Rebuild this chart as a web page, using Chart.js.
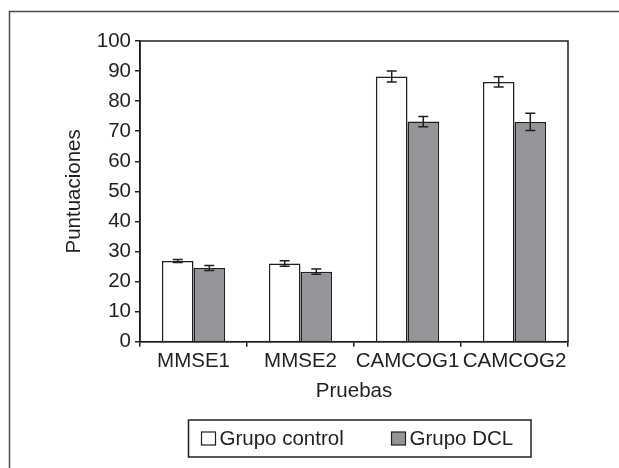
<!DOCTYPE html>
<html>
<head>
<meta charset="utf-8">
<script src="https://cdn.jsdelivr.net/npm/chart.js@4/dist/chart.umd.min.js"></script>
<style>
  html, body { margin: 0; padding: 0; background: #fff; }
  #wrap { width: 619px; height: 468px; }
</style>
</head>
<body>
<div id="wrap"><canvas id="scores" width="619" height="468"></canvas></div>
<script>
const categories = ["MMSE1", "MMSE2", "CAMCOG1", "CAMCOG2"];
const controlMeans = [26.8, 26.0, 88.2, 86.4];
const controlErr = [0.5, 0.9, 1.8, 1.7];
const dclMeans = [24.5, 23.3, 73.2, 73.1];
const dclErr = [0.8, 0.9, 1.7, 2.9];
const yTickValues = [0, 10, 20, 30, 40, 50, 60, 70, 80, 90, 100];

const ink = "#231f20";
const fontFamily = "'Liberation Sans', Arial, Helvetica, sans-serif";
const fontSize = 20.5;

// whiskers on top of each bar (mean +/- error)
const errorBars = {
    id: "errorBars",
    afterDatasetsDraw(chart) {
        const ctx = chart.ctx;
        const yScale = chart.scales.y;
        ctx.save();
        ctx.strokeStyle = ink;
        ctx.lineWidth = 1.5;
        chart.data.datasets.forEach((ds, i) => {
            const meta = chart.getDatasetMeta(i);
            meta.data.forEach((bar, j) => {
                const v = ds.data[j];
                const e = ds.errors[j];
                const yHi = yScale.getPixelForValue(v + e);
                const yLo = yScale.getPixelForValue(v - e);
                const x = bar.x;
                ctx.beginPath();
                ctx.moveTo(x, yHi);
                ctx.lineTo(x, yLo);
                ctx.moveTo(x - 5, yHi);
                ctx.lineTo(x + 5, yHi);
                ctx.moveTo(x - 5, yLo);
                ctx.lineTo(x + 5, yLo);
                ctx.stroke();
            });
        });
        ctx.restore();
    },
};

// outer frame, plot box and boxed legend
const decorations = {
    id: "decorations",
    beforeDraw(chart) {
        const ctx = chart.ctx;
        ctx.save();
        ctx.strokeStyle = "#4d4d4d";
        ctx.lineWidth = 1.5;
        ctx.beginPath();
        ctx.moveTo(9.5, 468);
        ctx.lineTo(9.5, 11.5);
        ctx.lineTo(619, 11.5);
        ctx.stroke();
        ctx.restore();
    },
    afterDraw(chart) {
        const ctx = chart.ctx;
        const a = chart.chartArea;
        ctx.save();
        ctx.strokeStyle = ink;
        ctx.lineWidth = 1.5;
        ctx.strokeRect(a.left, a.top, a.right - a.left, a.bottom - a.top);

        // legend
        ctx.strokeRect(188.5, 420, 342.5, 37);
        const itemX = [201.5, 391.5];
        ctx.font = fontSize + "px " + fontFamily;
        ctx.textBaseline = "middle";
        ctx.textAlign = "left";
        chart.data.datasets.forEach((ds, i) => {
            ctx.fillStyle = ds.backgroundColor;
            ctx.fillRect(itemX[i], 432, 14, 13);
            ctx.lineWidth = 1.2;
            ctx.strokeStyle = ink;
            ctx.strokeRect(itemX[i], 432, 14, 13);
            ctx.fillStyle = ink;
            ctx.fillText(ds.label, itemX[i] + 18, 439);
        });
        ctx.restore();
    },
};

new Chart(document.getElementById("scores"), {
    type: "bar",
    data: {
        labels: categories,
        datasets: [
            {
                label: "Grupo control",
                data: controlMeans,
                errors: controlErr,
                backgroundColor: "#ffffff",
                borderColor: ink,
                borderWidth: 1.5,
            },
            {
                label: "Grupo DCL",
                data: dclMeans,
                errors: dclErr,
                backgroundColor: "#939598",
                borderColor: ink,
                borderWidth: 1.5,
            },
        ],
    },
    options: {
        responsive: false,
        animation: false,
        datasets: {
            bar: { categoryPercentage: 0.59, barPercentage: 1.0 },
        },
        layout: { padding: { top: 41, right: 51, bottom: 0, left: 0 } },
        plugins: {
            legend: { display: false },
            tooltip: { enabled: false },
        },
        scales: {
            x: {
                grid: {
                    offset: true,
                    drawOnChartArea: false,
                    drawTicks: true,
                    tickLength: 5,
                    color: ink,
                    lineWidth: 1.5,
                },
                border: { display: true, color: ink, width: 1.5 },
                ticks: {
                    color: ink,
                    padding: 2,
                    maxRotation: 0,
                    autoSkip: false,
                    font: { size: fontSize, family: fontFamily },
                },
                title: {
                    display: true,
                    text: "Pruebas",
                    color: ink,
                    font: { size: fontSize, family: fontFamily },
                    padding: { top: 0, bottom: 64 },
                },
                afterFit: (scale) => { scale.height = 126.3; },
            },
            y: {
                min: 0,
                max: 100,
                afterBuildTicks: (scale) => {
                    scale.ticks = yTickValues.map((v) => ({ value: v }));
                },
                grid: {
                    drawOnChartArea: false,
                    drawTicks: true,
                    tickLength: 5,
                    color: ink,
                    lineWidth: 1.5,
                },
                border: { display: true, color: ink, width: 1.5 },
                ticks: {
                    color: ink,
                    padding: 4,
                    font: { size: fontSize, family: fontFamily },
                },
                title: {
                    display: true,
                    text: "Puntuaciones",
                    color: ink,
                    font: { size: fontSize, family: fontFamily },
                    padding: { top: 62, bottom: 0 },
                },
                afterFit: (scale) => { scale.width = 140; },
            },
        },
    },
    plugins: [errorBars, decorations],
});
</script>
</body>
</html>
